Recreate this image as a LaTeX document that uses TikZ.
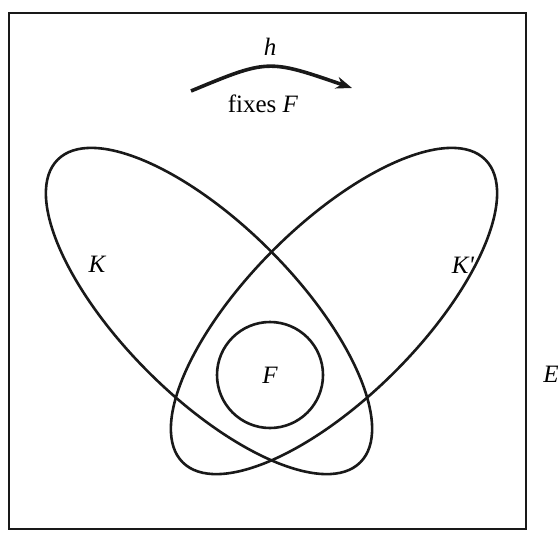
\documentclass[tikz,border=0pt]{standalone}
\usepackage{fontspec}
\setmainfont{Liberation Serif}
\usetikzlibrary{shapes.geometric,arrows.meta}
\begin{document}
\begin{tikzpicture}[x=1pt,y=-1pt,
  curve/.style={draw=black!90,line width=2.6pt},
  lbl/.style={font=\fontsize{25}{29}\selectfont\itshape,inner sep=0pt},
  loop/.style={curve,ellipse,minimum width=428pt,minimum height=172pt,inner sep=0pt}]
\useasboundingbox (0,0) rectangle (559,541);
\node[draw=black!90,line width=2.6pt,minimum width=517pt,minimum height=516pt,inner sep=0pt] (box) at (267.5,271) {};
\node[lbl] (E) at (551,374) {E};
\node[loop,rotate=-45] (K) at (209,311) {};
\node[loop,rotate=45] (Kp) at (334,311) {};
\node[curve,circle,minimum size=106pt,inner sep=0pt,font=\fontsize{25}{29}\selectfont\itshape] (F) at (270,375) {F};
\node[lbl] (Klbl) at (97,264) {K};
\node[lbl] (Kplbl) at (463,265) {K\textquotesingle};
\coordinate (a0) at (191,91);
\coordinate (a1) at (352,88);
\draw[line width=3.6pt,black!90,-{Stealth[length=16pt,width=12pt]}] (a0) .. controls (268,59) .. (a1);
\node[lbl] (h) at (270,47) {h};
\node[inner sep=0pt,font=\fontsize{25}{29}\selectfont] (fix) at (263,104) {fixes \textit{F}};
\end{tikzpicture}
\end{document}
